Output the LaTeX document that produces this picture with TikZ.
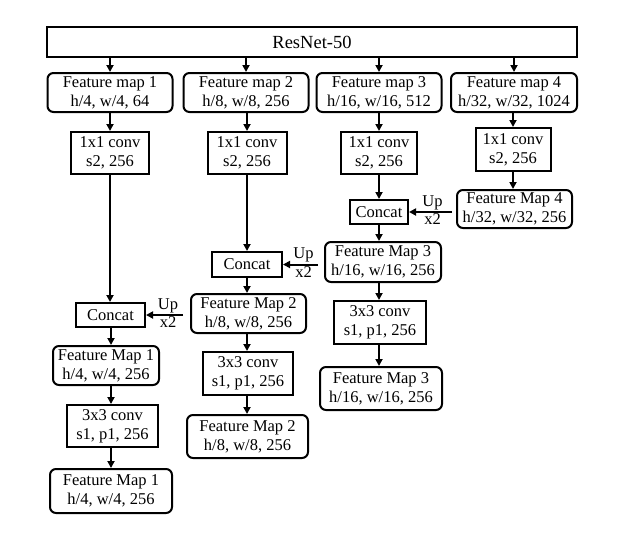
\documentclass[tikz,border=0pt]{standalone}
\usepackage{fontspec}
\setmainfont{Liberation Serif}
\usetikzlibrary{arrows.meta}
\begin{document}
\begin{tikzpicture}[x=1pt,y=-1pt,
  base/.style={draw, line width=2pt, align=center, inner sep=0pt,
    font=\fontsize{16.5}{19}\selectfont},
  fmap/.style={base, rounded corners=6pt},
  convbox/.style={base},
  arr/.style={line width=2pt, -{Triangle[length=7pt,width=7pt]}},
  uplbl/.style={font=\fontsize{16.5}{19}\selectfont, inner sep=1pt}
]
\useasboundingbox (0,0) rectangle (634,536);
\node[base, minimum width=530pt, minimum height=30pt, font=\fontsize{18.5}{20}\selectfont] (res) at (312,42) {ResNet-50};

\node[fmap, minimum width=125pt, minimum height=39pt] (f1) at (110,92.5) {Feature map 1\\h/4, w/4, 64};
\node[fmap, minimum width=125pt, minimum height=39pt] (f2) at (246,92.5) {Feature map 2\\h/8, w/8, 256};
\node[fmap, minimum width=125pt, minimum height=39pt] (f3) at (379,92.5) {Feature map 3\\h/16, w/16, 512};
\node[fmap, minimum width=126pt, minimum height=39pt] (f4) at (514,92.5) {Feature map 4\\h/32, w/32, 1024};

\node[convbox, minimum width=78pt, minimum height=42pt] (c1) at (110,153) {1x1 conv\\s2, 256};
\node[convbox, minimum width=79pt, minimum height=42pt] (c2) at (247,153) {1x1 conv\\s2, 256};
\node[convbox, minimum width=76pt, minimum height=42pt] (c3) at (379,153) {1x1 conv\\s2, 256};
\node[convbox, minimum width=75pt, minimum height=43pt] (c4) at (513,149.5) {1x1 conv\\s2, 256};

\node[fmap, minimum width=115pt, minimum height=38pt] (g4) at (514.5,209) {Feature Map 4\\h/32, w/32, 256};
\node[convbox, minimum width=58pt, minimum height=24pt] (k3) at (379,212) {Concat};
\node[fmap, minimum width=116pt, minimum height=40pt] (g3) at (383,262) {Feature Map 3\\h/16, w/16, 256};
\node[convbox, minimum width=70pt, minimum height=25pt] (k2) at (247,264.5) {Concat};
\node[fmap, minimum width=115pt, minimum height=39pt] (g2) at (248.5,313.5) {Feature Map 2\\h/8, w/8, 256};
\node[convbox, minimum width=69pt, minimum height=24pt] (k1) at (110.5,315) {Concat};
\node[fmap, minimum width=106pt, minimum height=39pt] (g1) at (106,365.5) {Feature Map 1\\h/4, w/4, 256};

\node[convbox, minimum width=91pt, minimum height=42pt] (t1) at (112.5,426) {3x3 conv\\s1, p1, 256};
\node[fmap, minimum width=122pt, minimum height=44pt] (h1) at (111,491) {Feature Map 1\\h/4, w/4, 256};
\node[convbox, minimum width=90pt, minimum height=43pt] (t2) at (248,373.5) {3x3 conv\\s1, p1, 256};
\node[fmap, minimum width=121pt, minimum height=43pt] (h2) at (247.5,436.5) {Feature Map 2\\h/8, w/8, 256};
\node[convbox, minimum width=92pt, minimum height=43pt] (t3) at (380,322.5) {3x3 conv\\s1, p1, 256};
\node[fmap, minimum width=122pt, minimum height=43pt] (h3) at (381,388.5) {Feature Map 3\\h/16, w/16, 256};

% column axes
\coordinate (x1) at (111,0);
\coordinate (x2) at (247,0);
\coordinate (x3) at (379,0);

% ResNet to feature maps
\foreach \n in {f1,f2,f3,f4} \draw[arr] (\n.north |- res.south) -- (\n.north);
% column 1
\draw[arr] (c1.north |- f1.south) -- (c1.north);
\draw[arr] (c1.south) -- (c1.south |- k1.north);
\draw[arr] (x1 |- k1.south) -- (x1 |- g1.north);
\draw[arr] (x1 |- g1.south) -- (x1 |- t1.north);
\draw[arr] (x1 |- t1.south) -- (x1 |- h1.north);
% column 2
\draw[arr] (c2.north |- f2.south) -- (c2.north);
\draw[arr] (c2.south) -- (c2.south |- k2.north);
\draw[arr] (x2 |- k2.south) -- (x2 |- g2.north);
\draw[arr] (x2 |- g2.south) -- (x2 |- t2.north);
\draw[arr] (x2 |- t2.south) -- (x2 |- h2.north);
% column 3
\draw[arr] (c3.north |- f3.south) -- (c3.north);
\draw[arr] (c3.south) -- (c3.south |- k3.north);
\draw[arr] (x3 |- k3.south) -- (x3 |- g3.north);
\draw[arr] (x3 |- g3.south) -- (x3 |- t3.north);
\draw[arr] (x3 |- t3.south) -- (x3 |- h3.north);
% column 4
\draw[arr] (c4.north |- f4.south) -- (c4.north);
\draw[arr] (c4.south) -- (c4.south |- g4.north);

% upsampling arrows
\draw[arr, shorten <=4pt] (g4.west |- k3.east) -- (k3.east)
  node[midway, above, uplbl] {Up} node[midway, below, uplbl] {x2};
\draw[arr, shorten <=6pt] (g3.west |- k2.east) -- (k2.east)
  node[midway, above, uplbl] {Up} node[midway, below, uplbl] {x2};
\draw[arr, shorten <=7pt] (g2.west |- k1.east) -- (k1.east)
  node[midway, above, uplbl] {Up} node[midway, below, uplbl] {x2};
\end{tikzpicture}
\end{document}
